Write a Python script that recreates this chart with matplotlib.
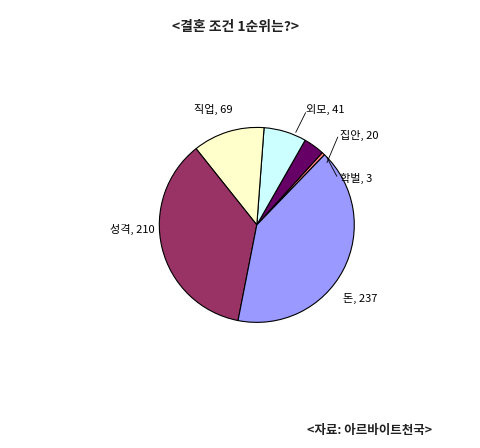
import matplotlib
matplotlib.use("Agg")
import matplotlib.pyplot as plt
plt.rcParams['font.family'] = ['Noto Sans CJK KR', 'DejaVu Sans']

labels = ['학벌', '집안', '외모', '직업', '성격', '돈']
values = [3, 20, 41, 69, 210, 237]
colors = ['#FF8080', '#660066', '#CCFFFF', '#FFFFCC', '#993366', '#9999FF']

fig = plt.figure(figsize=(4.8, 4.48), dpi=100)
ax = fig.add_axes([0.281, 0.226, 0.508, 0.544])
wedges, _ = ax.pie(values, colors=colors, startangle=46, counterclock=True,
                   wedgeprops=dict(edgecolor='black', linewidth=0.8))
ax.set_aspect('equal')

fs = 8
ax.text(0.5, 1.18, '외모, 41', fontsize=fs, ha='left', va='center')
ax.plot([0.4, 0.5], [0.95, 1.15], color='black', lw=0.6)
ax.text(0.85, 0.92, '집안, 20', fontsize=fs, ha='left', va='center')
ax.plot([0.72, 0.83], [0.64, 0.9], color='black', lw=0.6)
ax.text(0.85, 0.48, '학벌, 3', fontsize=fs, ha='left', va='center')
ax.plot([0.72, 0.82], [0.69, 0.5], color='black', lw=0.6)
ax.text(-0.45, 1.18, '직업, 69', fontsize=fs, ha='center', va='center')
ax.text(-1.05, -0.05, '성격, 210', fontsize=fs, ha='right', va='center')
ax.text(0.88, -0.75, '돈, 237', fontsize=fs, ha='left', va='center')

fig.text(0.49, 0.94, '<결혼 조건 1순위는?>', fontsize=10, fontweight='bold', ha='center', va='center', color='#222222')
fig.text(0.77, 0.04, '<자료: 아르바이트천국>', fontsize=9, fontweight='bold', ha='center', va='center', color='#222222')
fig.savefig('out.png', dpi=100, facecolor='white')
